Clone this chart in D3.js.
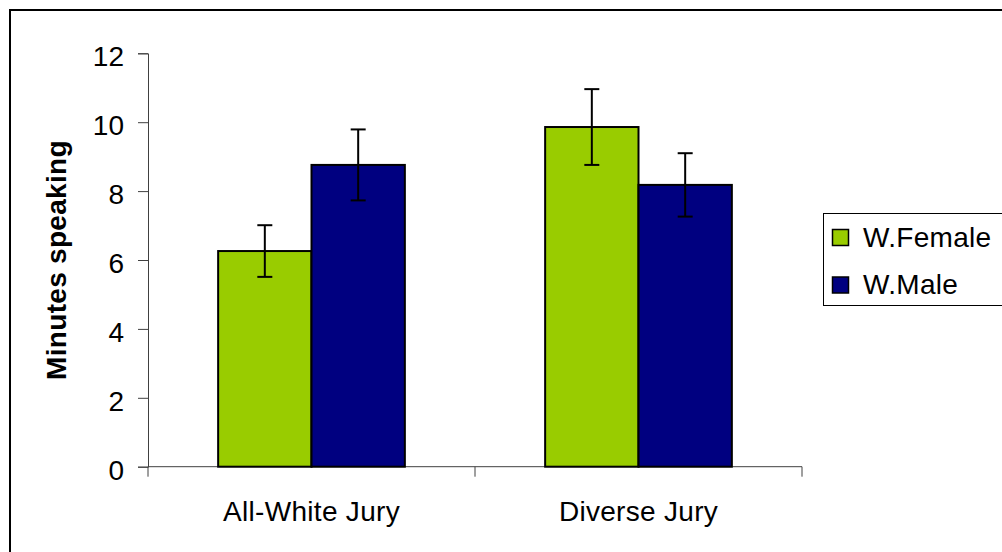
<!DOCTYPE html>
<html>
<head>
<meta charset="utf-8">
<script src="https://cdn.jsdelivr.net/npm/d3@7"></script>
<style>
  html, body { margin: 0; padding: 0; background: #fff; }
  svg { display: block; font-family: "Liberation Sans", Arial, sans-serif; }
</style>
</head>
<body>
<svg id="chart" width="1002" height="552"></svg>
<script>
const categories = ["All-White Jury", "Diverse Jury"];
const seriesNames = ["W.Female", "W.Male"];
const femaleMeans = [6.26, 9.86];
const maleMeans = [8.76, 8.18];
const femaleErrors = [0.75, 1.10];
const maleErrors = [1.03, 0.92];
const yTicks = [0, 2, 4, 6, 8, 10, 12];
const yLabel = "Minutes speaking";
const colors = ["#99CC00", "#000080"];

const svg = d3.select("#chart");

// outer frame (right/bottom edges fall outside the picture)
svg.append("rect")
  .attr("x", 10).attr("y", 10).attr("width", 1010).attr("height", 560)
  .attr("fill", "#fff").attr("stroke", "#000").attr("stroke-width", 2);

const plot = { left: 148, right: 802, top: 53.3, bottom: 466.7 };

const y = d3.scaleLinear().domain([0, 12]).range([plot.bottom, plot.top]);
const x0 = d3.scaleBand().domain(categories).range([plot.left, plot.right]).padding(0);
const bw = x0.bandwidth();
const x1 = d3.scaleBand().domain(seriesNames).range([bw * 0.2145, bw * 0.7855]).padding(0);

const data = categories.map((c, i) => ({
  cat: c,
  values: [
    { s: seriesNames[0], v: femaleMeans[i], e: femaleErrors[i], col: colors[0] },
    { s: seriesNames[1], v: maleMeans[i], e: maleErrors[i], col: colors[1] }
  ]
}));

// y axis
const yAxis = d3.axisLeft(y).tickValues(yTicks).tickSize(10).tickPadding(14).tickFormat(d3.format("d"));
const gy = svg.append("g").attr("transform", `translate(${plot.left},0)`).call(yAxis);
gy.select(".domain").attr("stroke", "#404040").attr("stroke-width", 1);
gy.selectAll(".tick line").attr("stroke", "#404040");
gy.selectAll(".tick text").attr("font-size", 28).attr("fill", "#000").attr("dy", "0.45em")
  .attr("font-family", "Liberation Sans, Arial, sans-serif");

// x axis line and boundary ticks
const gx = svg.append("g");
gx.append("line").attr("x1", plot.left).attr("x2", plot.right)
  .attr("y1", y(0)).attr("y2", y(0)).attr("stroke", "#404040").attr("stroke-width", 1);
const bounds = categories.map(c => x0(c)).concat([x0(categories[categories.length - 1]) + bw]);
gx.selectAll(".xt").data(bounds).enter().append("line")
  .attr("x1", d => d).attr("x2", d => d)
  .attr("y1", y(0)).attr("y2", y(0) + 10)
  .attr("stroke", "#404040").attr("stroke-width", 1);
gx.selectAll(".xl").data(categories).enter().append("text")
  .attr("x", d => x0(d) + bw / 2).attr("y", 521)
  .attr("text-anchor", "middle").attr("font-size", 28).attr("letter-spacing", 0.3)
  .text(d => d);

// bars
const groups = svg.selectAll(".grp").data(data).enter().append("g")
  .attr("transform", d => `translate(${x0(d.cat)},0)`);
groups.selectAll("rect").data(d => d.values).enter().append("rect")
  .attr("x", d => x1(d.s)).attr("width", x1.bandwidth())
  .attr("y", d => y(d.v)).attr("height", d => y(0) - y(d.v))
  .attr("fill", d => d.col).attr("stroke", "#000").attr("stroke-width", 2);

// error bars
const eb = groups.selectAll(".eb").data(d => d.values).enter().append("g")
  .attr("stroke", "#000").attr("stroke-width", 2);
eb.append("line")
  .attr("x1", d => x1(d.s) + x1.bandwidth() / 2).attr("x2", d => x1(d.s) + x1.bandwidth() / 2)
  .attr("y1", d => y(d.v + d.e)).attr("y2", d => y(d.v - d.e));
eb.append("line")
  .attr("x1", d => x1(d.s) + x1.bandwidth() / 2 - 7.5).attr("x2", d => x1(d.s) + x1.bandwidth() / 2 + 7.5)
  .attr("y1", d => y(d.v + d.e)).attr("y2", d => y(d.v + d.e));
eb.append("line")
  .attr("x1", d => x1(d.s) + x1.bandwidth() / 2 - 7.5).attr("x2", d => x1(d.s) + x1.bandwidth() / 2 + 7.5)
  .attr("y1", d => y(d.v - d.e)).attr("y2", d => y(d.v - d.e));

// y label
svg.append("text")
  .attr("transform", `translate(66,${(plot.top + plot.bottom) / 2}) rotate(-90)`)
  .attr("text-anchor", "middle").attr("font-size", 28).attr("font-weight", "bold")
  .attr("letter-spacing", 0.3)
  .text(yLabel);

// legend
const lg = svg.append("g");
lg.append("rect").attr("x", 823.5).attr("y", 213.5).attr("width", 200).attr("height", 92)
  .attr("fill", "#fff").attr("stroke", "#000").attr("stroke-width", 1);
const items = lg.selectAll(".li").data(seriesNames).enter().append("g")
  .attr("transform", (d, i) => `translate(0,${i * 47.5})`);
items.append("rect").attr("x", 832.5).attr("y", 229.5).attr("width", 16).attr("height", 16)
  .attr("fill", (d, i) => colors[i]).attr("stroke", "#000").attr("stroke-width", 1.5);
items.append("text").attr("x", 863).attr("y", 246.5).attr("font-size", 28).attr("letter-spacing", 0.3)
  .text(d => d);
</script>
</body>
</html>
